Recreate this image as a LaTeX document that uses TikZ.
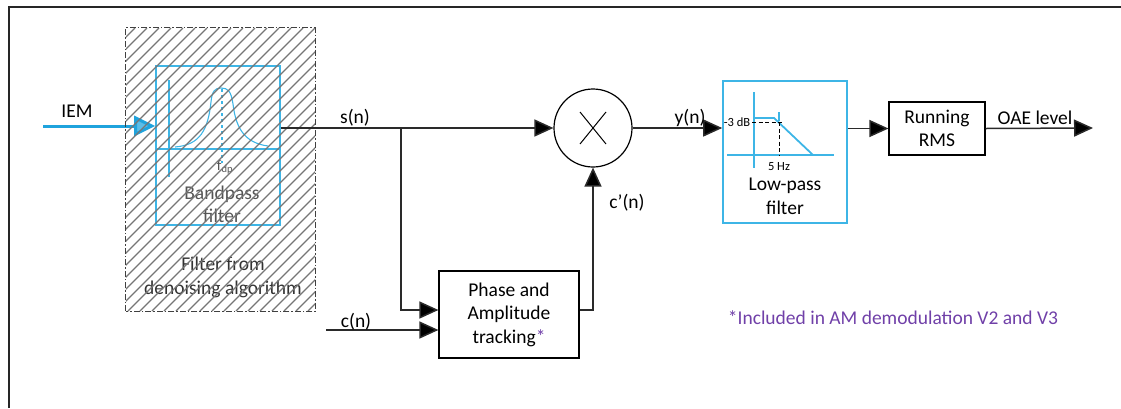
\documentclass[tikz,border=0pt]{standalone}
\usepackage{fontspec}
\setmainfont{Carlito}
\usetikzlibrary{arrows.meta,calc}
\definecolor{lblue}{HTML}{3DB5E6}
\definecolor{iemblue}{HTML}{1FA3DD}
\definecolor{iemtip}{HTML}{5BBDE8}
\definecolor{purp}{HTML}{7040A8}
\definecolor{conn}{HTML}{2A2A2A}
\definecolor{txtgray}{HTML}{555555}
\definecolor{hatchgray}{HTML}{767676}
\tikzset{
  mainfont/.style={font=\fontsize{19.5}{23.5}\selectfont},
  lbl/.style={mainfont, inner sep=0pt},
  smalllbl/.style={font=\fontsize{12.5}{14}\selectfont, inner sep=0pt},
  blockbox/.style={draw=black, line width=1.2pt, mainfont, align=center, inner sep=0pt},
  bluebox/.style={draw=lblue, line width=1.6pt, inner sep=0pt},
  connline/.style={draw=conn, line width=1.5pt},
  arrline/.style={connline, -{Triangle[length=19pt,width=17pt,fill=black]}},
  hatchline/.style={draw=hatchgray, line width=1.2pt},
  bluecurve/.style={draw=lblue, line width=1.1pt},
}
\begin{document}
\begin{tikzpicture}[x=1pt,y=-1pt]
\useasboundingbox (0,0) rectangle (1121,408);
% frame
\draw[line width=2pt, draw=black!85] (9,408) -- (9,7) -- (1121,7);

% hatched denoising box
\node[minimum width=189pt, minimum height=283pt, inner sep=0pt] (hatch) at (220.5,169.5) {};
% bandpass filter box
\node[bluebox, minimum width=124pt, minimum height=159pt] (bp) at (218,145.5) {};
\draw[bluecurve] (156,149) -- (280,149);
\draw[bluecurve] (169,80) -- (169,177);
\draw[bluecurve] (175,147) .. controls (200,145) and (208,130) .. (211,102)
  .. controls (212,91) and (215,88) .. (221,88)
  .. controls (228,88) and (231,91) .. (233,104)
  .. controls (236,130) and (246,143) .. (268,146);
\draw[bluecurve, dashed] (222,89) -- (222,163);
\node[font=\fontsize{15}{17}\selectfont, text=txtgray, inner sep=0pt] (fdp) at (225,167) {f\textsubscript{dp}};
\node[lbl, text=txtgray, align=center] (bptext) at (222,204.5) {Bandpass\\filter};
\node[lbl, text=black!80, align=center] (denoise) at (223,277.5) {Filter from\\denoising algorithm};

% IEM input arrow
\coordinate (iemstart) at (43,126);
\draw[draw=iemblue, line width=3pt, -{Triangle[length=21pt,width=20pt,fill=iemtip]}] (iemstart) -- (iemstart -| bp.west);
\node[lbl] (iemlbl) at (77,111) {IEM};

% hatching on top
\begin{scope}
  \clip (hatch.south west) rectangle (hatch.north east);
  \foreach \c in {-160,-148,...,320} \draw[hatchline] (\c,311) -- ++(283,-283);
\end{scope}
\draw[draw=black!75, line width=1.1pt, dash pattern=on 6pt off 2pt on 1.5pt off 2pt] (hatch.south west) rectangle (hatch.north east);

% multiplier
\node[circle, draw=black, line width=1.2pt, minimum size=78pt, inner sep=0pt] (mult) at (593,128) {};
\draw[line width=1pt] (580,112) -- (606,144);
\draw[line width=1pt] (580,144) -- (606,112);

% phase and amplitude tracking
\node[blockbox, minimum width=140pt, minimum height=87pt] (phase) at (509,314.5) {Phase and\\Amplitude\\tracking{\color{purp}*}};

% low-pass filter
\node[bluebox, minimum width=124pt, minimum height=142pt] (lpf) at (785,152) {};
\draw[bluecurve] (754,92) -- (754,168);
\draw[bluecurve] (727,155) -- (834,155);
\draw[draw=lblue, line width=1.8pt] (754,118) -- (774,118) -- (813,155);
\draw[bluecurve] (779,112) -- (779,121);
\draw[black, line width=1pt, dash pattern=on 4pt off 2.5pt] (752,122) -- (783,122);
\draw[black, line width=1pt, dash pattern=on 4pt off 2.5pt] (779,122) -- (779,155);
\node[smalllbl] (m3db) at (737,122) {-3 dB};
\node[smalllbl] (fivehz) at (779,167) {5 Hz};
\node[lbl, align=center] (lpftext) at (785,196.5) {Low-pass\\filter};

% running RMS
\node[blockbox, minimum width=96pt, minimum height=53pt] (rms) at (937,128.5) {Running\\RMS};

% connectors
\coordinate (br) at (401,128);
\draw[connline] (bp.east |- br) -- (br);
\draw[arrline] (br) -- (mult.west);
\draw[arrline] (br) |- ([yshift=4.5pt]phase.west);
\coordinate (cstart) at (326,330);
\draw[arrline] (cstart) -- (cstart -| phase.west);
\draw[arrline] ([yshift=4.5pt]phase.east) -| (mult.south);
\draw[arrline] (mult.east) -- (mult.east -| lpf.west);
\draw[arrline] (lpf.east |- rms.west) -- (rms.west);
\coordinate (oaeend) at (1093,128);
\draw[arrline] (rms.east) -- (oaeend);

% labels
\node[lbl] (snlbl) at (355,118) {s(n)};
\node[lbl] (cnlbl) at (356,322) {c(n)};
\node[lbl] (cplbl) at (627,203) {c’(n)};
\node[lbl] (ynlbl) at (690,118) {y(n)};
\node[lbl] (oaelbl) at (1035,118) {OAE level};
\node[lbl, text=purp] (note) at (893,318) {*Included in AM demodulation V2 and V3};
\end{tikzpicture}
\end{document}
